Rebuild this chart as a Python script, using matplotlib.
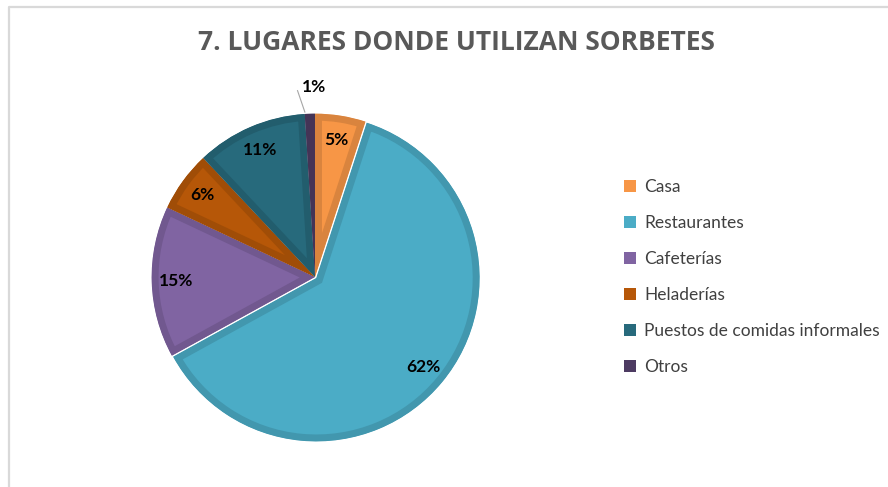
import numpy as np
import matplotlib
matplotlib.use("Agg")
from matplotlib import pyplot as plt
from matplotlib.patches import Rectangle
from matplotlib.lines import Line2D
import matplotlib.colors as mcolors

# --- data ----------------------------------------
categories = ["Casa", "Restaurantes", "Cafeterías", "Heladerías",
              "Puestos de comidas informales", "Otros"]
values = [5, 62, 15, 6, 11, 1]
colors = ["#F79646", "#4BACC6", "#8064A2", "#B65708", "#276A7C", "#4D3B62"]
title = "7. LUGARES DONDE UTILIZAN SORBETES"

W, H = 888, 487
fig = plt.figure(figsize=(W / 100, H / 100), dpi=100)

# chart frame
fig.add_artist(Line2D([8.5 / W, 8.5 / W, 1], [0, 1 - 6.5 / H, 1 - 6.5 / H],
                      transform=fig.transFigure, color="#d9d9d9", lw=1.6))

fig.text(456 / W, 1 - 42 / H, title, ha="center", va="center",
         fontsize=19, fontweight="bold", color="#595959", family="Open Sans")

# pie axes: center (315, 277) px, radius 165 px
cx, cy, r = 315, 277, 165
ax = fig.add_axes([(cx - r) / W, (H - cy - r) / H, 2 * r / W, 2 * r / H])


def darker(c, f=0.88):
    rgb = np.array(mcolors.to_rgb(c))
    return tuple(rgb * f)


explode = [0, 0.01, 0, 0, 0, 0]
wedges, texts, autotexts = ax.pie(
    values, colors=colors, startangle=90, counterclock=False, radius=0.99,
    explode=explode, pctdistance=0.85,
    autopct=lambda p: f"{p:.0f}%" if p >= 3 else "",
    textprops=dict(fontsize=12.5, fontweight="bold", color="black", family="Lato"),
    wedgeprops=dict(linewidth=10, joinstyle="miter"))
ax.set_xlim(-1, 1)
ax.set_ylim(-1, 1)
ax.axis("off")

for w, c in zip(wedges, colors):
    w.set_edgecolor(darker(c))
    w.set_clip_path(w)
    w.set_clip_on(True)

# small slice label outside with leader line
w = wedges[-1]
ang = np.deg2rad((w.theta1 + w.theta2) / 2)
ax.plot([np.cos(ang) * 1.0 - 0.03, np.cos(ang) * 1.14 - 0.07],
        [np.sin(ang) * 1.0, np.sin(ang) * 1.13],
        color="#a6a6a6", lw=0.8, clip_on=False)
ax.text(np.cos(ang) * 1.15 + 0.03, np.sin(ang) * 1.15, f"{values[-1]}%",
        ha="center", va="center", fontsize=12.5, fontweight="bold",
        family="Lato", clip_on=False)

handles = [Rectangle((0, 0), 1, 1, facecolor=c, edgecolor="none") for c in colors]
fig.legend(handles, categories, loc="upper left",
           bbox_to_anchor=(624 / W, 1 - 179 / H), frameon=False,
           prop=dict(family="Lato", size=12.5), handlelength=0.7,
           handleheight=0.7, handletextpad=0.45, labelspacing=1.15,
           borderpad=0, borderaxespad=0, labelcolor="#404040")

fig.savefig("out.png", dpi=100)
